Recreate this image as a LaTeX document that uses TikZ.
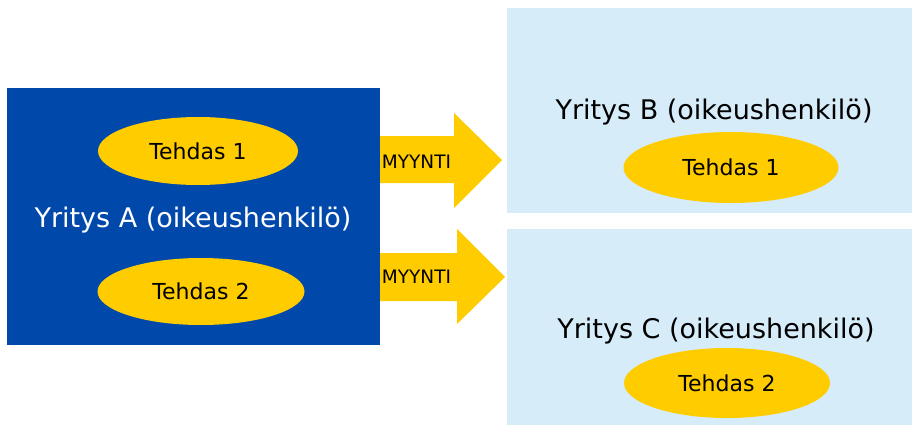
\documentclass[tikz,border=0pt]{standalone}
\usepackage{fontspec}
\setmainfont{DejaVu Sans}
\usetikzlibrary{shapes.geometric}
\definecolor{firmblue}{RGB}{0,72,170}
\definecolor{factory}{RGB}{255,204,0}
\definecolor{palebox}{RGB}{214,236,248}

\begin{document}
\begin{tikzpicture}[x=1pt,y=-1pt,
  firm box/.style={rectangle,inner sep=0pt,anchor=north west},
  firm name/.style={anchor=base,inner sep=0pt,font=\fontsize{27}{31}\selectfont},
  plant node/.style={ellipse,fill=factory,inner sep=0pt,font=\fontsize{22}{26}\selectfont},
  sale arrow/.style={fill=factory},
  sale label/.style={anchor=base,inner sep=0pt,font=\fontsize{18.5}{22}\selectfont}]

  \useasboundingbox (0,0) rectangle (912,425);

  \node[firm box,fill=firmblue,minimum width=373,minimum height=257] (A) at (7,88) {};
  \node[firm box,fill=palebox,minimum width=405,minimum height=205] (B) at (507,8) {};
  \node[firm box,fill=palebox,minimum width=405,minimum height=196] (C) at (507,229) {};

  \node[plant node,minimum width=200,minimum height=68] (a1) at (198,151) {Tehdas 1};
  \node[plant node,minimum width=207,minimum height=67] (a2) at (201,291.5) {Tehdas 2};
  \node[plant node,minimum width=215,minimum height=71] (b1) at (731,167.5) {Tehdas 1};
  \node[plant node,minimum width=206,minimum height=70] (c2) at (727,383) {Tehdas 2};

  \node[firm name,text=white] (nameA) at (193,227) {Yritys A (oikeushenkilö)};
  \node[firm name] (nameB) at (714,120) {Yritys B (oikeushenkilö)};
  \node[firm name] (nameC) at (716,338) {Yritys C (oikeushenkilö)};

  % myynti arrows
  \fill[sale arrow] (380,136) -- (454,136) -- (454,113) -- (502,160)
    -- (454,208) -- (454,183) -- (380,183) -- cycle;
  \fill[sale arrow] (380,253) -- (457,253) -- (457,229) -- (505,277)
    -- (457,324) -- (457,301) -- (380,301) -- cycle;
  \node[sale label] (saleB) at (416.5,168.3) {MYYNTI};
  \node[sale label] (saleC) at (416.5,283.3) {MYYNTI};

\end{tikzpicture}
\end{document}
